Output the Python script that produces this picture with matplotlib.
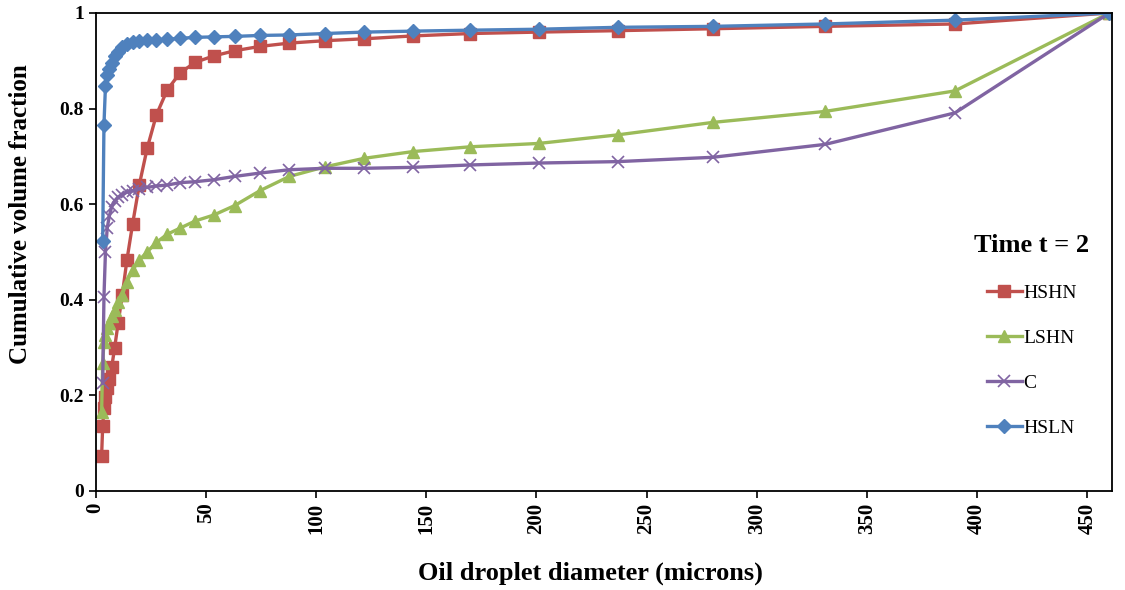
import numpy as np
import matplotlib
matplotlib.use("Agg")
from matplotlib import pyplot as plt
from matplotlib.ticker import FuncFormatter

# droplet size bins (microns)
diameter = [2.72, 3.20, 3.78, 4.46, 5.27, 6.21, 7.33, 8.65, 10.2, 12.1, 14.2, 16.8,
            19.8, 23.4, 27.6, 32.5, 38.4, 45.3, 53.5, 63.1, 74.5, 87.9, 104, 122,
            144, 170, 201, 237, 280, 331, 390, 460]

hshn = [0.074, 0.135, 0.173, 0.197, 0.215, 0.234, 0.26, 0.30, 0.351, 0.41, 0.483, 0.559,
        0.64, 0.717, 0.787, 0.839, 0.875, 0.897, 0.91, 0.921, 0.93, 0.937, 0.942, 0.946,
        0.952, 0.957, 0.96, 0.963, 0.967, 0.972, 0.977, 1.0]
lshn = [0.166, 0.267, 0.312, 0.326, 0.34, 0.352, 0.365, 0.379, 0.395, 0.41, 0.438, 0.462,
        0.483, 0.50, 0.52, 0.537, 0.55, 0.565, 0.577, 0.597, 0.628, 0.658, 0.678, 0.696,
        0.71, 0.72, 0.727, 0.745, 0.771, 0.794, 0.837, 1.0]
c = [np.nan, 0.225, 0.406, 0.50, 0.55, 0.575, 0.595, 0.607, 0.615, 0.62, 0.625, 0.628,
     0.632, 0.635, 0.638, 0.64, 0.645, 0.647, 0.651, 0.658, 0.665, 0.672, 0.675, 0.675,
     0.677, 0.682, 0.686, 0.689, 0.698, 0.725, 0.791, 1.0]
hsln = [np.nan, 0.522, 0.766, 0.847, 0.87, 0.882, 0.895, 0.909, 0.918, 0.928, 0.935, 0.94,
        0.942, 0.943, 0.944, 0.945, 0.947, 0.949, 0.95, 0.951, 0.953, 0.954, 0.957, 0.96,
        0.962, 0.964, 0.966, 0.97, 0.972, 0.977, 0.985, 1.0]

plt.rcParams['font.family'] = ['Liberation Serif', 'DejaVu Serif']

fig = plt.figure(figsize=(11.25, 5.9), dpi=100)
ax = fig.add_axes([0.085, 0.168, 0.903, 0.81])

ax.plot(diameter, hshn, color='#C0504D', lw=2.4, marker='s', ms=8.5, label='HSHN')
ax.plot(diameter, lshn, color='#9BBB59', lw=2.4, marker='^', ms=9, label='LSHN')
ax.plot(diameter, c, color='#8064A2', lw=2.4, marker='x', ms=8.5, mew=1.2, label='C')
ax.plot(diameter, hsln, color='#4F81BD', lw=2.4, marker='D', ms=7.5, label='HSLN')

ax.set_xlim(0, 461)
ax.set_ylim(0, 1)
ax.set_xticks(np.arange(0, 451, 50))
ax.set_yticks(np.arange(0, 1.01, 0.2))
ax.yaxis.set_major_formatter(FuncFormatter(lambda v, p: f'{v:g}'))
ax.tick_params(axis='x', labelrotation=90, labelsize=15, length=5, width=1.2)
ax.tick_params(axis='y', labelsize=14, length=5, width=1.2)
for lab in ax.get_xticklabels() + ax.get_yticklabels():
    lab.set_fontweight('bold')
for s in ax.spines.values():
    s.set_linewidth(1.3)
    s.set_color('black')

ax.set_xlabel('Oil droplet diameter (microns)', fontsize=19, fontweight='bold')
ax.xaxis.set_label_coords(0.487, -0.148)
ax.set_ylabel('Cumulative volume fraction', fontsize=18, fontweight='bold')
ax.yaxis.set_label_coords(-0.063, 0.58)

leg = ax.legend(title='Time t = 2', loc='center right', bbox_to_anchor=(0.986, 0.325),
                frameon=False, fontsize=14, labelspacing=1.4, handlelength=1.8,
                handletextpad=0.1, borderaxespad=0)
leg.get_title().set_fontweight('bold')
leg.get_title().set_fontsize(19)
leg._legend_box.align = 'center'

fig.savefig('out.png', dpi=100)
